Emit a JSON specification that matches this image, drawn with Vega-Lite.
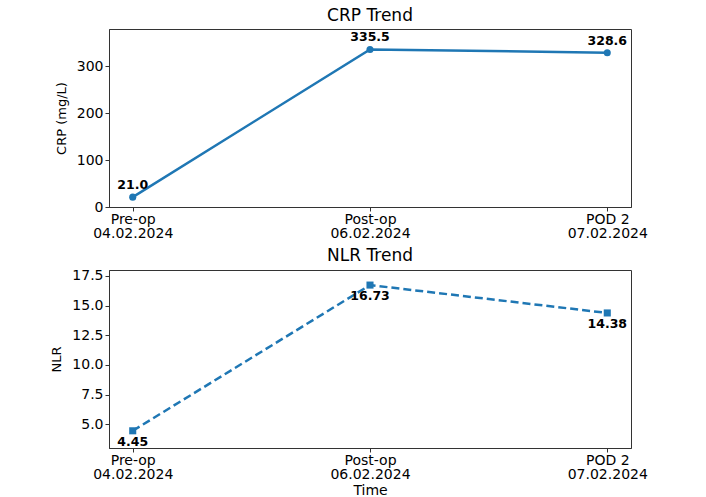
{
  "$schema": "https://vega.github.io/schema/vega-lite/v6.json",
  "background": "white",
  "padding": {"left": 50, "top": 6, "right": 5, "bottom": 0},
  "datasets": {
    "d": [
      {"t": "Pre-op|04.02.2024", "crp": 21.0, "nlr": 4.45},
      {"t": "Post-op|06.02.2024", "crp": 335.5, "nlr": 16.73},
      {"t": "POD 2|07.02.2024", "crp": 328.6, "nlr": 14.38}
    ]
  },
  "data": {"name": "d"},
  "config": {
    "font": "DejaVu Sans",
    "view": {"stroke": "#333333", "strokeWidth": 1},
    "axis": {
      "labelFont": "DejaVu Sans", "labelFontSize": 14, "labelColor": "black",
      "titleFont": "DejaVu Sans", "titleFontSize": 13, "titleFontWeight": "normal", "titleColor": "black",
      "tickColor": "#333333", "tickSize": 4, "domainColor": "#333333", "grid": false,
      "labelLineHeight": 14.5
    },
    "title": {"font": "DejaVu Sans", "fontSize": 17, "fontWeight": "normal", "color": "black", "offset": 4},
    "concat": {"spacing": 5}
  },
  "vconcat": [
    {
      "width": 522, "height": 178,
      "title": "CRP Trend",
      "encoding": {
        "x": {"field": "t", "type": "ordinal", "sort": null, "scale": {"type": "point", "padding": 0.1},
              "axis": {"title": null, "labelAngle": 0, "labelExpr": "split(datum.label, '|')", "labelPadding": 1}},
        "y": {"field": "crp", "type": "quantitative", "scale": {"domain": [0, 379], "nice": false, "zero": false},
              "axis": {"title": "CRP (mg/L)", "values": [0, 100, 200, 300], "titlePadding": 8, "labelPadding": 2}}
      },
      "layer": [
        {"mark": {"type": "line", "color": "#1f77b4", "strokeWidth": 2.5}},
        {"mark": {"type": "point", "filled": true, "shape": "circle", "size": 50, "color": "#1f77b4", "opacity": 1}},
        {"mark": {"type": "text", "dy": -12, "fontWeight": "bold", "fontSize": 12.5, "color": "black", "font": "DejaVu Sans"},
         "encoding": {"text": {"field": "crp", "type": "quantitative", "format": ".1f"}}}
      ]
    },
    {
      "width": 522, "height": 178,
      "title": "NLR Trend",
      "encoding": {
        "x": {"field": "t", "type": "ordinal", "sort": null, "scale": {"type": "point", "padding": 0.1},
              "axis": {"title": "Time", "labelAngle": 0, "labelExpr": "split(datum.label, '|')", "labelPadding": 1, "titlePadding": 2, "titleFontSize": 14}},
        "y": {"field": "nlr", "type": "quantitative", "scale": {"domain": [3.0, 18.0], "nice": false, "zero": false},
              "axis": {"title": "NLR", "values": [5, 7.5, 10, 12.5, 15, 17.5], "format": ".1f", "titlePadding": 8, "labelPadding": 2}}
      },
      "layer": [
        {"mark": {"type": "line", "color": "#1f77b4", "strokeWidth": 2.5, "strokeDash": [8, 4]}},
        {"mark": {"type": "square", "size": 50, "color": "#1f77b4", "opacity": 1, "filled": true}},
        {"mark": {"type": "text", "dy": 11, "fontWeight": "bold", "fontSize": 12.5, "color": "black", "font": "DejaVu Sans"},
         "encoding": {"text": {"field": "nlr", "type": "quantitative", "format": ".2f"}}}
      ]
    }
  ]
}
